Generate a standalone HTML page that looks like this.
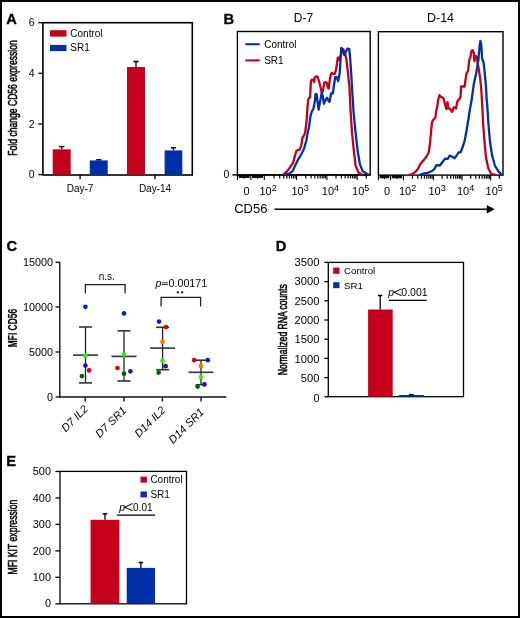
<!DOCTYPE html>
<html><head><meta charset="utf-8"><style>
html,body{margin:0;padding:0;background:#fff;}
#fig{position:relative;width:520px;height:618px;overflow:hidden;background:#fff;}
#fig svg{position:absolute;left:0;top:0;will-change:transform;}
#frame{position:absolute;left:0;top:0;width:520px;height:618px;box-sizing:border-box;border:2px solid #000;}
</style></head><body>
<div id="fig">
<svg width="520" height="618" viewBox="0 0 520 618">
<text transform="translate(6.3,23.8) scale(0.96,1)" font-size="15.3" font-weight="bold" stroke="#000" stroke-width="0.35" font-family="Liberation Sans, sans-serif">A</text>
<rect x="42.9" y="22.7" width="149.4" height="152.3" fill="none" stroke="#000" stroke-width="1.6"/>
<line x1="38.3" y1="174.6" x2="43" y2="174.6" stroke="#000" stroke-width="1.3"/>
<text x="34.5" y="177.6" font-size="10.5" text-anchor="end" font-family="Liberation Sans, sans-serif">0</text>
<line x1="38.3" y1="124" x2="43" y2="124" stroke="#000" stroke-width="1.3"/>
<text x="34.5" y="127.5" font-size="10.5" text-anchor="end" font-family="Liberation Sans, sans-serif">2</text>
<line x1="38.3" y1="73.3" x2="43" y2="73.3" stroke="#000" stroke-width="1.3"/>
<text x="34.5" y="76.8" font-size="10.5" text-anchor="end" font-family="Liberation Sans, sans-serif">4</text>
<line x1="38.3" y1="22.7" x2="43" y2="22.7" stroke="#000" stroke-width="1.3"/>
<text x="34.5" y="25.7" font-size="10.5" text-anchor="end" font-family="Liberation Sans, sans-serif">6</text>
<line x1="80.1" y1="174.6" x2="80.1" y2="179.2" stroke="#000" stroke-width="1.3"/>
<text x="80.1" y="191.9" font-size="10" text-anchor="middle" font-family="Liberation Sans, sans-serif">Day-7</text>
<line x1="155" y1="174.6" x2="155" y2="179.2" stroke="#000" stroke-width="1.3"/>
<text x="155" y="191.9" font-size="10" text-anchor="middle" font-family="Liberation Sans, sans-serif">Day-14</text>
<line x1="61.7" y1="146.6" x2="61.7" y2="149.3" stroke="#000" stroke-width="1.3"/>
<line x1="59.1" y1="146.6" x2="64.3" y2="146.6" stroke="#000" stroke-width="1.5"/>
<rect x="52.7" y="149.3" width="18.0" height="25.299999999999983" fill="#c4001a"/>
<line x1="98.75" y1="159.8" x2="98.75" y2="160.4" stroke="#000" stroke-width="1.3"/>
<line x1="96.15" y1="159.8" x2="101.35" y2="159.8" stroke="#000" stroke-width="1.5"/>
<rect x="89.8" y="160.4" width="17.900000000000006" height="14.199999999999989" fill="#0030a8"/>
<line x1="136.0" y1="61.5" x2="136.0" y2="67" stroke="#000" stroke-width="1.3"/>
<line x1="133.4" y1="61.5" x2="138.6" y2="61.5" stroke="#000" stroke-width="1.5"/>
<rect x="127" y="67" width="18" height="107.6" fill="#c4001a"/>
<line x1="173.45" y1="147.7" x2="173.45" y2="150.4" stroke="#000" stroke-width="1.3"/>
<line x1="170.85" y1="147.7" x2="176.04999999999998" y2="147.7" stroke="#000" stroke-width="1.5"/>
<rect x="164.6" y="150.4" width="17.700000000000017" height="24.19999999999999" fill="#0030a8"/>
<rect x="50" y="30.2" width="16.5" height="6.4" fill="#c4001a"/>
<rect x="50" y="44.9" width="16.5" height="6.2" fill="#0030a8"/>
<text x="70.3" y="36.6" font-size="10" font-family="Liberation Sans, sans-serif">Control</text>
<text x="70.3" y="51.4" font-size="10" font-family="Liberation Sans, sans-serif">SR1</text>
<text transform="translate(17.1,155.7) rotate(-90)" font-size="12.5" font-weight="normal" stroke="#000" stroke-width="0.55" textLength="115.5" lengthAdjust="spacingAndGlyphs" font-family="Liberation Sans, sans-serif">Fold change CD56 expression</text>
<text transform="translate(223.4,24.0) scale(0.96,1)" font-size="15.3" font-weight="bold" stroke="#000" stroke-width="0.35" font-family="Liberation Sans, sans-serif">B</text>
<text x="303.5" y="21.8" font-size="12" text-anchor="middle" font-family="Liberation Sans, sans-serif">D-7</text>
<text x="427.0" y="21.7" font-size="12" textLength="27.0" lengthAdjust="spacingAndGlyphs" font-family="Liberation Sans, sans-serif">D-14</text>
<rect x="237.4" y="31.5" width="132.8" height="143.4" fill="none" stroke="#000" stroke-width="1.4"/>
<rect x="378.4" y="31.7" width="124.6" height="143.4" fill="none" stroke="#000" stroke-width="1.4"/>
<line x1="232.3" y1="174.9" x2="237.4" y2="174.9" stroke="#000" stroke-width="1.4"/>
<text x="229.4" y="178.4" font-size="10.5" text-anchor="end" font-family="Liberation Sans, sans-serif">0</text>
<line x1="245.4" y1="44.2" x2="259.7" y2="44.2" stroke="#0030a8" stroke-width="2.1"/>
<line x1="245.4" y1="60.4" x2="259.7" y2="60.4" stroke="#c4001a" stroke-width="2.1"/>
<text x="264.2" y="47.6" font-size="10" font-family="Liberation Sans, sans-serif">Control</text>
<text x="264.2" y="63.8" font-size="10" font-family="Liberation Sans, sans-serif">SR1</text>
<line x1="237.4" y1="174.9" x2="370.2" y2="174.9" stroke="#000" stroke-width="1.5"/>
<line x1="237.40" y1="174.9" x2="237.40" y2="179.9" stroke="#000" stroke-width="1.1"/>
<line x1="250.80" y1="174.9" x2="250.80" y2="179.9" stroke="#000" stroke-width="1.1"/>
<line x1="264.30" y1="174.9" x2="264.30" y2="179.9" stroke="#000" stroke-width="1.1"/>
<rect x="238.60" y="174.9" width="11.00" height="3.1" fill="#000" fill-opacity="0.95"/>
<rect x="252.00" y="174.9" width="11.10" height="3.1" fill="#000" fill-opacity="0.95"/>
<line x1="244.10" y1="174.9" x2="244.10" y2="178.70000000000002" stroke="#000" stroke-width="1.1"/>
<line x1="257.55" y1="174.9" x2="257.55" y2="178.70000000000002" stroke="#000" stroke-width="1.1"/>
<line x1="274.02" y1="174.9" x2="274.02" y2="178.4" stroke="#000" stroke-width="1.2"/>
<line x1="279.71" y1="174.9" x2="279.71" y2="178.4" stroke="#000" stroke-width="1.2"/>
<line x1="283.75" y1="174.9" x2="283.75" y2="178.4" stroke="#000" stroke-width="1.2"/>
<line x1="286.88" y1="174.9" x2="286.88" y2="178.4" stroke="#000" stroke-width="1.2"/>
<line x1="289.43" y1="174.9" x2="289.43" y2="178.4" stroke="#000" stroke-width="1.2"/>
<line x1="291.60" y1="174.9" x2="291.60" y2="178.4" stroke="#000" stroke-width="1.2"/>
<line x1="293.47" y1="174.9" x2="293.47" y2="178.4" stroke="#000" stroke-width="1.2"/>
<line x1="295.12" y1="174.9" x2="295.12" y2="178.4" stroke="#000" stroke-width="1.2"/>
<line x1="296.60" y1="174.9" x2="296.60" y2="179.9" stroke="#000" stroke-width="1.1"/>
<line x1="305.72" y1="174.9" x2="305.72" y2="178.4" stroke="#000" stroke-width="1.2"/>
<line x1="311.06" y1="174.9" x2="311.06" y2="178.4" stroke="#000" stroke-width="1.2"/>
<line x1="314.84" y1="174.9" x2="314.84" y2="178.4" stroke="#000" stroke-width="1.2"/>
<line x1="317.78" y1="174.9" x2="317.78" y2="178.4" stroke="#000" stroke-width="1.2"/>
<line x1="320.18" y1="174.9" x2="320.18" y2="178.4" stroke="#000" stroke-width="1.2"/>
<line x1="322.21" y1="174.9" x2="322.21" y2="178.4" stroke="#000" stroke-width="1.2"/>
<line x1="323.96" y1="174.9" x2="323.96" y2="178.4" stroke="#000" stroke-width="1.2"/>
<line x1="325.51" y1="174.9" x2="325.51" y2="178.4" stroke="#000" stroke-width="1.2"/>
<line x1="326.90" y1="174.9" x2="326.90" y2="179.9" stroke="#000" stroke-width="1.1"/>
<line x1="336.02" y1="174.9" x2="336.02" y2="178.4" stroke="#000" stroke-width="1.2"/>
<line x1="341.36" y1="174.9" x2="341.36" y2="178.4" stroke="#000" stroke-width="1.2"/>
<line x1="345.14" y1="174.9" x2="345.14" y2="178.4" stroke="#000" stroke-width="1.2"/>
<line x1="348.08" y1="174.9" x2="348.08" y2="178.4" stroke="#000" stroke-width="1.2"/>
<line x1="350.48" y1="174.9" x2="350.48" y2="178.4" stroke="#000" stroke-width="1.2"/>
<line x1="352.51" y1="174.9" x2="352.51" y2="178.4" stroke="#000" stroke-width="1.2"/>
<line x1="354.26" y1="174.9" x2="354.26" y2="178.4" stroke="#000" stroke-width="1.2"/>
<line x1="355.81" y1="174.9" x2="355.81" y2="178.4" stroke="#000" stroke-width="1.2"/>
<line x1="357.20" y1="174.9" x2="357.20" y2="179.9" stroke="#000" stroke-width="1.1"/>
<line x1="366.32" y1="174.9" x2="366.32" y2="178.4" stroke="#000" stroke-width="1.2"/>
<line x1="378.40" y1="175.2" x2="378.40" y2="180.2" stroke="#000" stroke-width="1.1"/>
<line x1="390.60" y1="175.2" x2="390.60" y2="180.2" stroke="#000" stroke-width="1.1"/>
<line x1="403.40" y1="175.2" x2="403.40" y2="180.2" stroke="#000" stroke-width="1.1"/>
<rect x="379.60" y="175.2" width="9.80" height="3.1" fill="#000" fill-opacity="0.95"/>
<rect x="391.80" y="175.2" width="10.40" height="3.1" fill="#000" fill-opacity="0.95"/>
<line x1="384.50" y1="175.2" x2="384.50" y2="179.0" stroke="#000" stroke-width="1.1"/>
<line x1="397.00" y1="175.2" x2="397.00" y2="179.0" stroke="#000" stroke-width="1.1"/>
<line x1="412.46" y1="175.2" x2="412.46" y2="178.7" stroke="#000" stroke-width="1.2"/>
<line x1="417.76" y1="175.2" x2="417.76" y2="178.7" stroke="#000" stroke-width="1.2"/>
<line x1="421.52" y1="175.2" x2="421.52" y2="178.7" stroke="#000" stroke-width="1.2"/>
<line x1="424.44" y1="175.2" x2="424.44" y2="178.7" stroke="#000" stroke-width="1.2"/>
<line x1="426.82" y1="175.2" x2="426.82" y2="178.7" stroke="#000" stroke-width="1.2"/>
<line x1="428.84" y1="175.2" x2="428.84" y2="178.7" stroke="#000" stroke-width="1.2"/>
<line x1="430.58" y1="175.2" x2="430.58" y2="178.7" stroke="#000" stroke-width="1.2"/>
<line x1="432.12" y1="175.2" x2="432.12" y2="178.7" stroke="#000" stroke-width="1.2"/>
<line x1="433.50" y1="175.2" x2="433.50" y2="180.2" stroke="#000" stroke-width="1.1"/>
<line x1="442.11" y1="175.2" x2="442.11" y2="178.7" stroke="#000" stroke-width="1.2"/>
<line x1="447.15" y1="175.2" x2="447.15" y2="178.7" stroke="#000" stroke-width="1.2"/>
<line x1="450.72" y1="175.2" x2="450.72" y2="178.7" stroke="#000" stroke-width="1.2"/>
<line x1="453.49" y1="175.2" x2="453.49" y2="178.7" stroke="#000" stroke-width="1.2"/>
<line x1="455.76" y1="175.2" x2="455.76" y2="178.7" stroke="#000" stroke-width="1.2"/>
<line x1="457.67" y1="175.2" x2="457.67" y2="178.7" stroke="#000" stroke-width="1.2"/>
<line x1="459.33" y1="175.2" x2="459.33" y2="178.7" stroke="#000" stroke-width="1.2"/>
<line x1="460.79" y1="175.2" x2="460.79" y2="178.7" stroke="#000" stroke-width="1.2"/>
<line x1="462.10" y1="175.2" x2="462.10" y2="180.2" stroke="#000" stroke-width="1.1"/>
<line x1="470.71" y1="175.2" x2="470.71" y2="178.7" stroke="#000" stroke-width="1.2"/>
<line x1="475.75" y1="175.2" x2="475.75" y2="178.7" stroke="#000" stroke-width="1.2"/>
<line x1="479.32" y1="175.2" x2="479.32" y2="178.7" stroke="#000" stroke-width="1.2"/>
<line x1="482.09" y1="175.2" x2="482.09" y2="178.7" stroke="#000" stroke-width="1.2"/>
<line x1="484.36" y1="175.2" x2="484.36" y2="178.7" stroke="#000" stroke-width="1.2"/>
<line x1="486.27" y1="175.2" x2="486.27" y2="178.7" stroke="#000" stroke-width="1.2"/>
<line x1="487.93" y1="175.2" x2="487.93" y2="178.7" stroke="#000" stroke-width="1.2"/>
<line x1="489.39" y1="175.2" x2="489.39" y2="178.7" stroke="#000" stroke-width="1.2"/>
<line x1="490.70" y1="175.2" x2="490.70" y2="180.2" stroke="#000" stroke-width="1.1"/>
<line x1="499.31" y1="175.2" x2="499.31" y2="178.7" stroke="#000" stroke-width="1.2"/>
<text x="246.5" y="195" font-size="11" text-anchor="middle" font-family="Liberation Sans, sans-serif">0</text>
<text x="259.5" y="195" font-size="11" font-family="Liberation Sans, sans-serif">10<tspan dy="-3.8" font-size="9">2</tspan></text>
<text x="291.5" y="195" font-size="11" font-family="Liberation Sans, sans-serif">10<tspan dy="-3.8" font-size="9">3</tspan></text>
<text x="321.8" y="195" font-size="11" font-family="Liberation Sans, sans-serif">10<tspan dy="-3.8" font-size="9">4</tspan></text>
<text x="352.1" y="195" font-size="11" font-family="Liberation Sans, sans-serif">10<tspan dy="-3.8" font-size="9">5</tspan></text>
<text x="387.1" y="195" font-size="11" text-anchor="middle" font-family="Liberation Sans, sans-serif">0</text>
<text x="398.9" y="195" font-size="11" font-family="Liberation Sans, sans-serif">10<tspan dy="-3.8" font-size="9">2</tspan></text>
<text x="428.4" y="195" font-size="11" font-family="Liberation Sans, sans-serif">10<tspan dy="-3.8" font-size="9">3</tspan></text>
<text x="457.0" y="195" font-size="11" font-family="Liberation Sans, sans-serif">10<tspan dy="-3.8" font-size="9">4</tspan></text>
<text x="485.6" y="195" font-size="11" font-family="Liberation Sans, sans-serif">10<tspan dy="-3.8" font-size="9">5</tspan></text>
<text x="234.2" y="213" font-size="13" font-family="Liberation Sans, sans-serif">CD56</text>
<line x1="274.4" y1="209.2" x2="488" y2="209.2" stroke="#000" stroke-width="1.6"/>
<path d="M486.8,204.9 L494.7,209.2 L486.8,213.5 Z" fill="#000"/>
<path d="M283.2,174.8 L287.1,171.1 L289.3,168.4 L291.5,165.1 L293.1,162.9 L294.8,156.3 L296.4,150.7 L297.5,150.2 L299.7,149.6 L301.4,145.2 L302.5,137.5 L304.1,135.3 L305.2,132.0 L306.6,121.0 L307.3,110.0 L308.1,99.8 L308.9,98.2 L310.1,97.4 L310.9,81.2 L311.7,79.6 L313.4,80.0 L314.2,82.0 L314.6,77.6 L316.2,76.3 L317.4,76.7 L319.0,81.2 L320.2,86.1 L321.5,91.7 L322.7,91.7 L324.3,82.8 L325.5,82.0 L326.7,82.8 L327.9,87.7 L328.7,88.5 L329.6,81.2 L330.8,74.7 L332.0,72.7 L333.2,73.9 L334.8,73.9 L336.0,69.9 L337.2,62.0 L337.8,58.0 L338.5,57.5 L339.5,60.0 L341.5,53.0 L343.5,49.5 L345.0,53.0 L346.5,60.0 L348.0,73.0 L349.5,88.0 L350.6,111.4 L352.0,132.7 L354.2,154.1 L355.6,165.5 L358.5,172.6 L362.7,174.9" fill="none" stroke="#c4001a" stroke-width="2.3" stroke-linejoin="round"/>
<path d="M284.3,174.8 L289.8,173.3 L292.6,171.1 L294.8,166.2 L297.5,160.7 L300.8,155.2 L304.1,148.5 L306.3,140.8 L307.4,134.2 L309.1,126.5 L310.5,116.0 L311.8,111.5 L313.4,108.7 L315.0,100.6 L315.4,94.1 L316.6,94.1 L318.6,109.5 L320.6,99.0 L321.7,92.9 L322.7,95.8 L323.9,103.9 L325.9,99.0 L327.1,97.8 L328.3,100.6 L329.6,101.8 L330.4,97.4 L331.2,93.3 L332.8,93.3 L334.0,85.2 L335.2,77.1 L336.8,77.1 L338.1,81.2 L339.7,73.1 L340.4,62.0 L341.2,48.0 L342.5,49.0 L344.2,55.0 L345.8,52.0 L347.5,48.5 L349.2,49.0 L350.0,56.0 L351.5,78.0 L352.3,92.0 L353.5,111.4 L355.6,132.7 L357.7,151.3 L359.9,164.1 L362.7,171.2 L369.1,174.9" fill="none" stroke="#0030a8" stroke-width="2.3" stroke-linejoin="round"/>
<path d="M408.7,175.1 L412.1,174.1 L415.5,171.7 L418.2,168.4 L420.2,164.3 L422.9,161.0 L426.2,157.0 L428.7,152.5 L430.0,143.0 L431.2,130.0 L432.0,122.3 L433.1,120.0 L435.4,117.7 L436.0,112.0 L437.1,107.3 L438.3,99.2 L439.4,95.2 L441.1,96.9 L443.4,98.1 L445.2,105.0 L446.3,109.0 L447.5,102.1 L448.3,108.5 L449.8,108.5 L452.1,111.9 L453.8,107.3 L456.1,108.5 L457.3,101.5 L459.0,99.2 L460.2,98.1 L460.7,94.6 L461.1,86.5 L464.6,86.5 L466.3,73.8 L468.1,70.9 L469.2,60.0 L470.4,57.7 L471.5,50.8 L472.9,50.2 L473.8,53.1 L474.4,61.1 L475.6,56.0 L476.7,56.5 L477.3,61.1 L478.4,66.9 L480.2,78.4 L481.3,90.0 L482.2,104.6 L483.3,126.4 L484.8,145.4 L486.2,158.5 L488.4,168.7 L491.3,173.8 L496.4,175.2" fill="none" stroke="#c4001a" stroke-width="2.3" stroke-linejoin="round"/>
<path d="M419.5,175.1 L424.2,173.3 L428.3,172.6 L431.5,171.3 L434.3,169.2 L436.5,165.1 L439.9,165.5 L442.5,162.0 L445.1,158.6 L447.7,158.9 L449.9,155.4 L452.3,156.8 L454.7,158.2 L456.6,155.5 L458.5,152.5 L460.7,152.1 L462.7,147.0 L464.6,140.9 L466.6,130.5 L468.3,120.0 L469.8,110.0 L471.6,100.0 L473.8,84.2 L476.1,73.8 L478.4,60.0 L479.6,46.1 L480.4,41.0 L481.3,45.0 L482.1,58.8 L483.6,62.3 L484.8,73.8 L485.9,85.4 L486.7,100.0 L487.2,104.6 L488.4,123.5 L489.9,141.0 L492.1,155.6 L495.0,165.8 L498.6,171.6 L502.3,175.2" fill="none" stroke="#0030a8" stroke-width="2.3" stroke-linejoin="round"/>
<text transform="translate(6.5,250.9) scale(0.96,1)" font-size="15.3" font-weight="bold" stroke="#000" stroke-width="0.35" font-family="Liberation Sans, sans-serif">C</text>
<line x1="59.8" y1="262.3" x2="59.8" y2="397" stroke="#111" stroke-width="1.4"/>
<line x1="59.1" y1="397" x2="226.3" y2="397" stroke="#111" stroke-width="1.5"/>
<line x1="55.5" y1="397" x2="59.8" y2="397" stroke="#111" stroke-width="1.4"/>
<text x="53.0" y="400.5" font-size="10" text-anchor="end" textLength="6.0" lengthAdjust="spacingAndGlyphs" font-family="Liberation Sans, sans-serif">0</text>
<line x1="55.5" y1="352" x2="59.8" y2="352" stroke="#111" stroke-width="1.4"/>
<text x="53.0" y="355.5" font-size="10" text-anchor="end" textLength="24.0" lengthAdjust="spacingAndGlyphs" font-family="Liberation Sans, sans-serif">5000</text>
<line x1="55.5" y1="307" x2="59.8" y2="307" stroke="#111" stroke-width="1.4"/>
<text x="53.0" y="310.5" font-size="10" text-anchor="end" textLength="30.0" lengthAdjust="spacingAndGlyphs" font-family="Liberation Sans, sans-serif">10000</text>
<line x1="55.5" y1="262.3" x2="59.8" y2="262.3" stroke="#111" stroke-width="1.4"/>
<text x="53.0" y="265.8" font-size="10" text-anchor="end" textLength="30.0" lengthAdjust="spacingAndGlyphs" font-family="Liberation Sans, sans-serif">15000</text>
<line x1="85.2" y1="397" x2="85.2" y2="401.5" stroke="#111" stroke-width="1.4"/>
<line x1="124" y1="397" x2="124" y2="401.5" stroke="#111" stroke-width="1.4"/>
<line x1="162.4" y1="397" x2="162.4" y2="401.5" stroke="#111" stroke-width="1.4"/>
<line x1="201.1" y1="397" x2="201.1" y2="401.5" stroke="#111" stroke-width="1.4"/>
<text transform="translate(88.7,409.6) rotate(-45)" x="0" y="0" font-size="11" font-style="italic" text-anchor="end" font-family="Liberation Sans, sans-serif">D7 IL2</text>
<text transform="translate(127.1,411.1) rotate(-45)" x="0" y="0" font-size="11" font-style="italic" text-anchor="end" font-family="Liberation Sans, sans-serif">D7 SR1</text>
<text transform="translate(166.2,410.8) rotate(-45)" x="0" y="0" font-size="11" font-style="italic" text-anchor="end" font-family="Liberation Sans, sans-serif">D14 IL2</text>
<text transform="translate(204.6,412.7) rotate(-45)" x="0" y="0" font-size="11" font-style="italic" text-anchor="end" font-family="Liberation Sans, sans-serif">D14 SR1</text>
<text transform="translate(17.2,347.2) rotate(-90)" font-size="13" font-weight="bold" stroke="#000" stroke-width="0.15" textLength="38.3" lengthAdjust="spacingAndGlyphs" font-family="Liberation Sans, sans-serif">MFI CD56</text>
<path d="M85.4,293.5 V284.6 H125.1 V293.5" fill="none" stroke="#222" stroke-width="1.3"/>
<text x="106.7" y="280" font-size="10" text-anchor="middle" font-family="Liberation Sans, sans-serif">n.s.</text>
<path d="M161.1,306.4 V297.4 H200.6 V306.4" fill="none" stroke="#222" stroke-width="1.3"/>
<text x="155.4" y="287" font-size="10.5" font-style="italic" font-family="Liberation Sans, sans-serif">p</text>
<line x1="161.7" y1="282.8" x2="167.9" y2="282.8" stroke="#333" stroke-width="1"/><line x1="161.7" y1="284.6" x2="167.9" y2="284.6" stroke="#333" stroke-width="1"/>
<text x="168.6" y="286.9" font-size="10" textLength="38.6" lengthAdjust="spacingAndGlyphs" font-family="Liberation Sans, sans-serif">0.00171</text>
<circle cx="177.9" cy="292.3" r="1.15" fill="#000"/><circle cx="182.2" cy="292.3" r="1.15" fill="#000"/>
<line x1="85.5" y1="327" x2="85.5" y2="382.9" stroke="#222" stroke-width="1.3"/>
<line x1="79.0" y1="327" x2="92.0" y2="327" stroke="#333" stroke-width="1.6"/>
<line x1="79.0" y1="382.9" x2="92.0" y2="382.9" stroke="#333" stroke-width="1.6"/>
<line x1="73.0" y1="355.1" x2="98.0" y2="355.1" stroke="#333" stroke-width="1.6"/>
<line x1="124" y1="330.8" x2="124" y2="381" stroke="#222" stroke-width="1.3"/>
<line x1="117.5" y1="330.8" x2="130.5" y2="330.8" stroke="#333" stroke-width="1.6"/>
<line x1="117.5" y1="381" x2="130.5" y2="381" stroke="#333" stroke-width="1.6"/>
<line x1="111.5" y1="356.4" x2="136.5" y2="356.4" stroke="#333" stroke-width="1.6"/>
<line x1="162.6" y1="327.3" x2="162.6" y2="369.7" stroke="#222" stroke-width="1.3"/>
<line x1="156.1" y1="327.3" x2="169.1" y2="327.3" stroke="#333" stroke-width="1.6"/>
<line x1="156.1" y1="369.7" x2="169.1" y2="369.7" stroke="#333" stroke-width="1.6"/>
<line x1="150.1" y1="348.1" x2="175.1" y2="348.1" stroke="#333" stroke-width="1.6"/>
<line x1="201" y1="360.2" x2="201" y2="384.7" stroke="#222" stroke-width="1.3"/>
<line x1="195.7" y1="360.2" x2="206.3" y2="360.2" stroke="#333" stroke-width="1.6"/>
<line x1="195.7" y1="384.7" x2="206.3" y2="384.7" stroke="#333" stroke-width="1.6"/>
<line x1="188.5" y1="372.3" x2="213.5" y2="372.3" stroke="#333" stroke-width="1.6"/>
<circle cx="85.4" cy="306.8" r="2.35" fill="#0028c4"/>
<circle cx="85.4" cy="355.9" r="2.35" fill="#33ee00"/>
<circle cx="85.4" cy="365.6" r="2.35" fill="#2211aa"/>
<circle cx="89.1" cy="370.4" r="2.35" fill="#d60010"/>
<circle cx="81.9" cy="376.1" r="2.35" fill="#006400"/>
<circle cx="124" cy="313.4" r="2.35" fill="#0028c4"/>
<circle cx="124" cy="354.6" r="2.35" fill="#33ee00"/>
<circle cx="117.5" cy="368" r="2.35" fill="#d60010"/>
<circle cx="130.4" cy="371.3" r="2.35" fill="#2211aa"/>
<circle cx="124" cy="373.7" r="2.35" fill="#006400"/>
<circle cx="159" cy="321.6" r="2.35" fill="#0028c4"/>
<circle cx="166" cy="327" r="2.35" fill="#d60010"/>
<circle cx="162.5" cy="341.7" r="2.35" fill="#ff7700"/>
<circle cx="162.5" cy="360.7" r="2.35" fill="#33ee00"/>
<circle cx="165.6" cy="366.2" r="2.35" fill="#2211aa"/>
<circle cx="158.7" cy="372.6" r="2.35" fill="#006400"/>
<circle cx="194.2" cy="360.2" r="2.35" fill="#d60010"/>
<circle cx="207.8" cy="360.2" r="2.35" fill="#0028c4"/>
<circle cx="200.9" cy="365.9" r="2.35" fill="#ff7700"/>
<circle cx="200.9" cy="377" r="2.35" fill="#33ee00"/>
<circle cx="204.4" cy="384.4" r="2.35" fill="#2211aa"/>
<circle cx="197.6" cy="386.6" r="2.35" fill="#006400"/>
<text transform="translate(275.7,250.8) scale(0.96,1)" font-size="15.3" font-weight="bold" stroke="#000" stroke-width="0.35" font-family="Liberation Sans, sans-serif">D</text>
<rect x="328.3" y="262.4" width="135.2" height="134.3" fill="none" stroke="#000" stroke-width="1.3"/>
<line x1="324.4" y1="396.8" x2="328.3" y2="396.8" stroke="#000" stroke-width="1.3"/>
<text x="319.4" y="401.5" font-size="10.5" text-anchor="end" textLength="6.0" lengthAdjust="spacingAndGlyphs" font-family="Liberation Sans, sans-serif">0</text>
<line x1="324.4" y1="377.6" x2="328.3" y2="377.6" stroke="#000" stroke-width="1.3"/>
<text x="319.4" y="382.1" font-size="10.5" text-anchor="end" textLength="18.6" lengthAdjust="spacingAndGlyphs" font-family="Liberation Sans, sans-serif">500</text>
<line x1="324.4" y1="358.4" x2="328.3" y2="358.4" stroke="#000" stroke-width="1.3"/>
<text x="319.4" y="362.8" font-size="10.5" text-anchor="end" textLength="24.9" lengthAdjust="spacingAndGlyphs" font-family="Liberation Sans, sans-serif">1000</text>
<line x1="324.4" y1="339.2" x2="328.3" y2="339.2" stroke="#000" stroke-width="1.3"/>
<text x="319.4" y="343.4" font-size="10.5" text-anchor="end" textLength="24.9" lengthAdjust="spacingAndGlyphs" font-family="Liberation Sans, sans-serif">1500</text>
<line x1="324.4" y1="320.0" x2="328.3" y2="320.0" stroke="#000" stroke-width="1.3"/>
<text x="319.4" y="324.0" font-size="10.5" text-anchor="end" textLength="24.9" lengthAdjust="spacingAndGlyphs" font-family="Liberation Sans, sans-serif">2000</text>
<line x1="324.4" y1="300.8" x2="328.3" y2="300.8" stroke="#000" stroke-width="1.3"/>
<text x="319.4" y="304.6" font-size="10.5" text-anchor="end" textLength="24.9" lengthAdjust="spacingAndGlyphs" font-family="Liberation Sans, sans-serif">2500</text>
<line x1="324.4" y1="281.6" x2="328.3" y2="281.6" stroke="#000" stroke-width="1.3"/>
<text x="319.4" y="285.3" font-size="10.5" text-anchor="end" textLength="24.9" lengthAdjust="spacingAndGlyphs" font-family="Liberation Sans, sans-serif">3000</text>
<line x1="324.4" y1="262.4" x2="328.3" y2="262.4" stroke="#000" stroke-width="1.3"/>
<text x="319.4" y="265.9" font-size="10.5" text-anchor="end" textLength="24.9" lengthAdjust="spacingAndGlyphs" font-family="Liberation Sans, sans-serif">3500</text>
<text transform="translate(286.6,375.2) rotate(-90)" font-size="12.5" font-weight="normal" stroke="#000" stroke-width="0.55" textLength="91" lengthAdjust="spacingAndGlyphs" font-family="Liberation Sans, sans-serif">Normalized RNA counts</text>
<rect x="333.2" y="267.6" width="6.3" height="6.2" fill="#c4001a"/>
<rect x="333.2" y="282.2" width="6.3" height="6" fill="#0030a8"/>
<text x="344" y="274.1" font-size="9.7" font-family="Liberation Sans, sans-serif">Control</text>
<text x="344" y="288.6" font-size="9.7" font-family="Liberation Sans, sans-serif">SR1</text>
<line x1="380.2" y1="295.5" x2="380.2" y2="309.5" stroke="#000" stroke-width="1.3"/>
<line x1="378" y1="295.5" x2="382.4" y2="295.5" stroke="#000" stroke-width="1.5"/>
<rect x="368.1" y="309.5" width="24.6" height="87.2" fill="#c4001a"/>
<rect x="398.8" y="395" width="25" height="1.8" fill="#0030a8"/>
<line x1="409" y1="394.6" x2="413.8" y2="394.6" stroke="#000" stroke-width="1.3"/>
<text x="388.3" y="295.6" font-size="10.5" font-style="italic" font-family="Liberation Sans, sans-serif">p</text>
<path d="M401.5,288.9 L394.2,292.35 L401.5,295.8" fill="none" stroke="#111" stroke-width="1.05"/>
<text x="401.3" y="295.6" font-size="10.5" font-family="Liberation Sans, sans-serif">0.001</text>
<line x1="388.8" y1="300.3" x2="426.7" y2="300.3" stroke="#000" stroke-width="1.2"/>
<text transform="translate(6.3,465.7) scale(0.96,1)" font-size="15.3" font-weight="bold" stroke="#000" stroke-width="0.35" font-family="Liberation Sans, sans-serif">E</text>
<rect x="60" y="471.4" width="126.5" height="132.4" fill="none" stroke="#000" stroke-width="1.3"/>
<line x1="55.4" y1="603.8" x2="60" y2="603.8" stroke="#000" stroke-width="1.3"/>
<text x="51.0" y="607.4" font-size="10.5" text-anchor="end" textLength="6.1" lengthAdjust="spacingAndGlyphs" font-family="Liberation Sans, sans-serif">0</text>
<line x1="55.4" y1="577.3" x2="60" y2="577.3" stroke="#000" stroke-width="1.3"/>
<text x="51.0" y="580.9" font-size="10.5" text-anchor="end" textLength="18.2" lengthAdjust="spacingAndGlyphs" font-family="Liberation Sans, sans-serif">100</text>
<line x1="55.4" y1="550.9" x2="60" y2="550.9" stroke="#000" stroke-width="1.3"/>
<text x="51.0" y="554.5" font-size="10.5" text-anchor="end" textLength="18.2" lengthAdjust="spacingAndGlyphs" font-family="Liberation Sans, sans-serif">200</text>
<line x1="55.4" y1="524.4" x2="60" y2="524.4" stroke="#000" stroke-width="1.3"/>
<text x="51.0" y="528.0" font-size="10.5" text-anchor="end" textLength="18.2" lengthAdjust="spacingAndGlyphs" font-family="Liberation Sans, sans-serif">300</text>
<line x1="55.4" y1="498.0" x2="60" y2="498.0" stroke="#000" stroke-width="1.3"/>
<text x="51.0" y="501.6" font-size="10.5" text-anchor="end" textLength="18.2" lengthAdjust="spacingAndGlyphs" font-family="Liberation Sans, sans-serif">400</text>
<line x1="55.4" y1="471.5" x2="60" y2="471.5" stroke="#000" stroke-width="1.3"/>
<text x="51.0" y="475.1" font-size="10.5" text-anchor="end" textLength="18.2" lengthAdjust="spacingAndGlyphs" font-family="Liberation Sans, sans-serif">500</text>
<text transform="translate(16.8,574.4) rotate(-90)" font-size="12.5" font-weight="normal" stroke="#000" stroke-width="0.55" textLength="74.7" lengthAdjust="spacingAndGlyphs" font-family="Liberation Sans, sans-serif">MFI KIT expression</text>
<rect x="140.5" y="476.6" width="6.4" height="6" fill="#c4001a"/>
<rect x="140.5" y="491.5" width="6.4" height="5.9" fill="#0030a8"/>
<text x="150.4" y="483.1" font-size="10" font-family="Liberation Sans, sans-serif">Control</text>
<text x="150.4" y="497.6" font-size="10" font-family="Liberation Sans, sans-serif">SR1</text>
<text x="119.2" y="510.9" font-size="10.5" font-style="italic" font-family="Liberation Sans, sans-serif">p</text>
<path d="M132.7,503.6 L124.6,507.2 L132.7,510.8" fill="none" stroke="#111" stroke-width="1.05"/>
<text x="133.1" y="510.9" font-size="10" font-family="Liberation Sans, sans-serif">0.01</text>
<line x1="117.2" y1="515.1" x2="155.2" y2="515.1" stroke="#000" stroke-width="1.3"/>
<line x1="105.0" y1="513.8" x2="105.0" y2="519.8" stroke="#000" stroke-width="1.3"/>
<line x1="102.8" y1="513.8" x2="107.2" y2="513.8" stroke="#000" stroke-width="1.5"/>
<rect x="90.6" y="519.8" width="28.80000000000001" height="84.0" fill="#c4001a"/>
<line x1="140.85" y1="562.5" x2="140.85" y2="567.9" stroke="#000" stroke-width="1.3"/>
<line x1="138.65" y1="562.5" x2="143.04999999999998" y2="562.5" stroke="#000" stroke-width="1.5"/>
<rect x="126.7" y="567.9" width="28.299999999999997" height="35.89999999999998" fill="#0030a8"/>
</svg>
<div id="frame"></div>
</div>
</body></html>
